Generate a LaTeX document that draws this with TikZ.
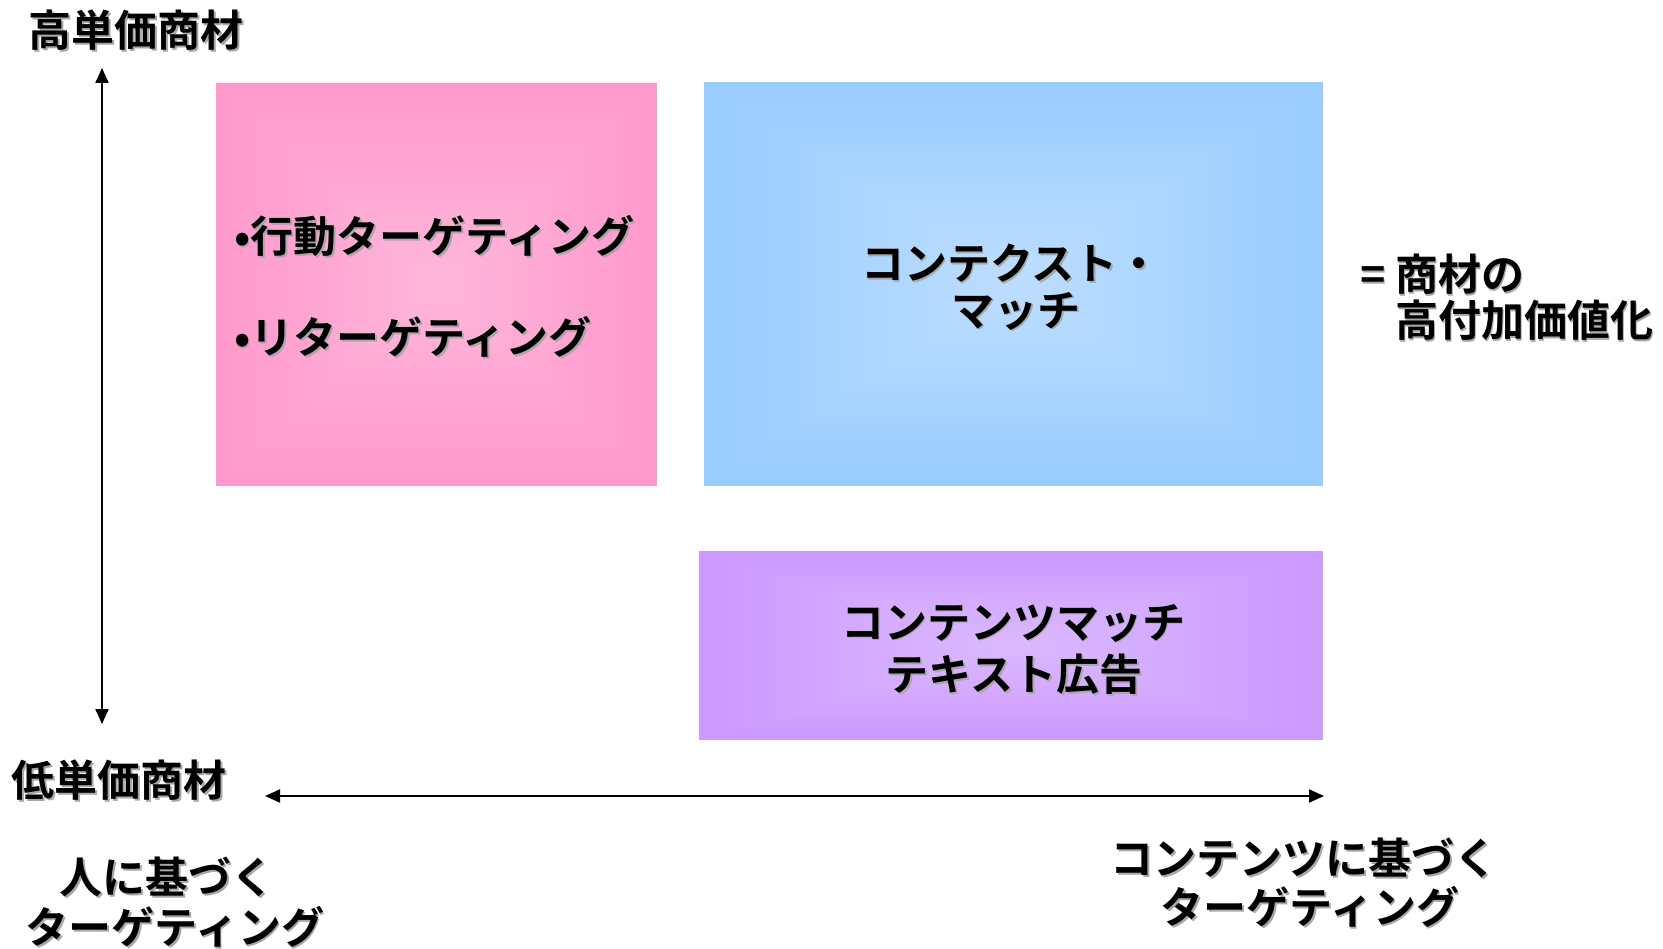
\documentclass[tikz,border=0pt]{standalone}
\usepackage{fontspec}
\setmainfont{Noto Sans CJK JP}[BoldFont={* Bold}]
\usetikzlibrary{arrows.meta,calc}
\definecolor{pinkedge}{HTML}{FF99CC}
\definecolor{pinkmid}{HTML}{FFB5DA}
\definecolor{blueedge}{HTML}{99CCFF}
\definecolor{bluemid}{HTML}{BCDDFF}
\definecolor{purpedge}{HTML}{CC99FF}
\definecolor{purpmid}{HTML}{DBB8FF}
\definecolor{shadowgray}{HTML}{A8A8A8}
\newcommand{\shd}[1]{\leavevmode\rlap{\kern1.6pt\raisebox{-1.6pt}{\textcolor{shadowgray}{#1}}}#1}
\tikzset{
  rectgrad/.style 2 args={path picture={
    \foreach \k in {0,...,30}{
      \pgfmathsetmacro{\pc}{100*\k/30}
      \fill[#2!\pc!#1]
        ($(path picture bounding box.south west)!{\k/64}!(path picture bounding box.north east)$)
        rectangle
        ($(path picture bounding box.north east)!{\k/64}!(path picture bounding box.south west)$);
    }}},
  box/.style={draw=none,inner sep=0pt,outer sep=0pt},
  lbl/.style={font=\fontsize{43}{50}\selectfont\bfseries,inner sep=0pt,text=black},
  axis/.style={line width=2pt,{Triangle[length=15pt,width=13pt]}-{Triangle[length=15pt,width=13pt]}}
}
\begin{document}
\begin{tikzpicture}[x=1pt,y=-1pt]
\useasboundingbox (0,0) rectangle (1663,949);
% boxes
\node[box,rectgrad={pinkedge}{pinkmid},minimum width=441pt,minimum height=403pt] (pink) at (436.5,284.5) {};
\node[box,rectgrad={blueedge}{bluemid},minimum width=619pt,minimum height=404pt] (blue) at (1013.5,284) {};
\node[box,rectgrad={purpedge}{purpmid},minimum width=624pt,minimum height=189pt] (purp) at (1011,645.5) {};
% box texts
\node[lbl,anchor=west] (p1) at (234,237) {\shd{•行動ターゲティング}};
\node[lbl,anchor=west] (p2) at (234,338) {\shd{•リターゲティング}};
\node[lbl] (b1) at (1011,264) {\shd{コンテクスト・}};
\node[lbl] (b2) at (1016,312) {\shd{マッチ}};
\node[lbl] (c1) at (1013,624) {\shd{コンテンツマッチ}};
\node[lbl] (c2) at (1014,675) {\shd{テキスト広告}};
% axis labels
\node[lbl] (hi) at (136,31) {\shd{高単価商材}};
\node[lbl] (lo) at (119,781) {\shd{低単価商材}};
\node[lbl] (h1) at (167,878) {\shd{人に基づく}};
\node[lbl] (h2) at (175,928) {\shd{ターゲティング}};
\node[lbl] (r1) at (1304,859) {\shd{コンテンツに基づく}};
\node[lbl] (r2) at (1310,908) {\shd{ターゲティング}};
\node[lbl,anchor=west] (v1) at (1360,275) {\shd{= 商材の}};
\node[lbl,anchor=west] (v2) at (1395,321) {\shd{高付加価値化}};
% arrows
\coordinate (vtop) at (102,68);
\coordinate (vbot) at (102,724);
\coordinate (hleft) at (265,796);
\coordinate (hright) at (1324,796);
\draw[axis] (vtop) -- (vbot);
\draw[axis] (hleft) -- (hright);
\end{tikzpicture}
\end{document}
